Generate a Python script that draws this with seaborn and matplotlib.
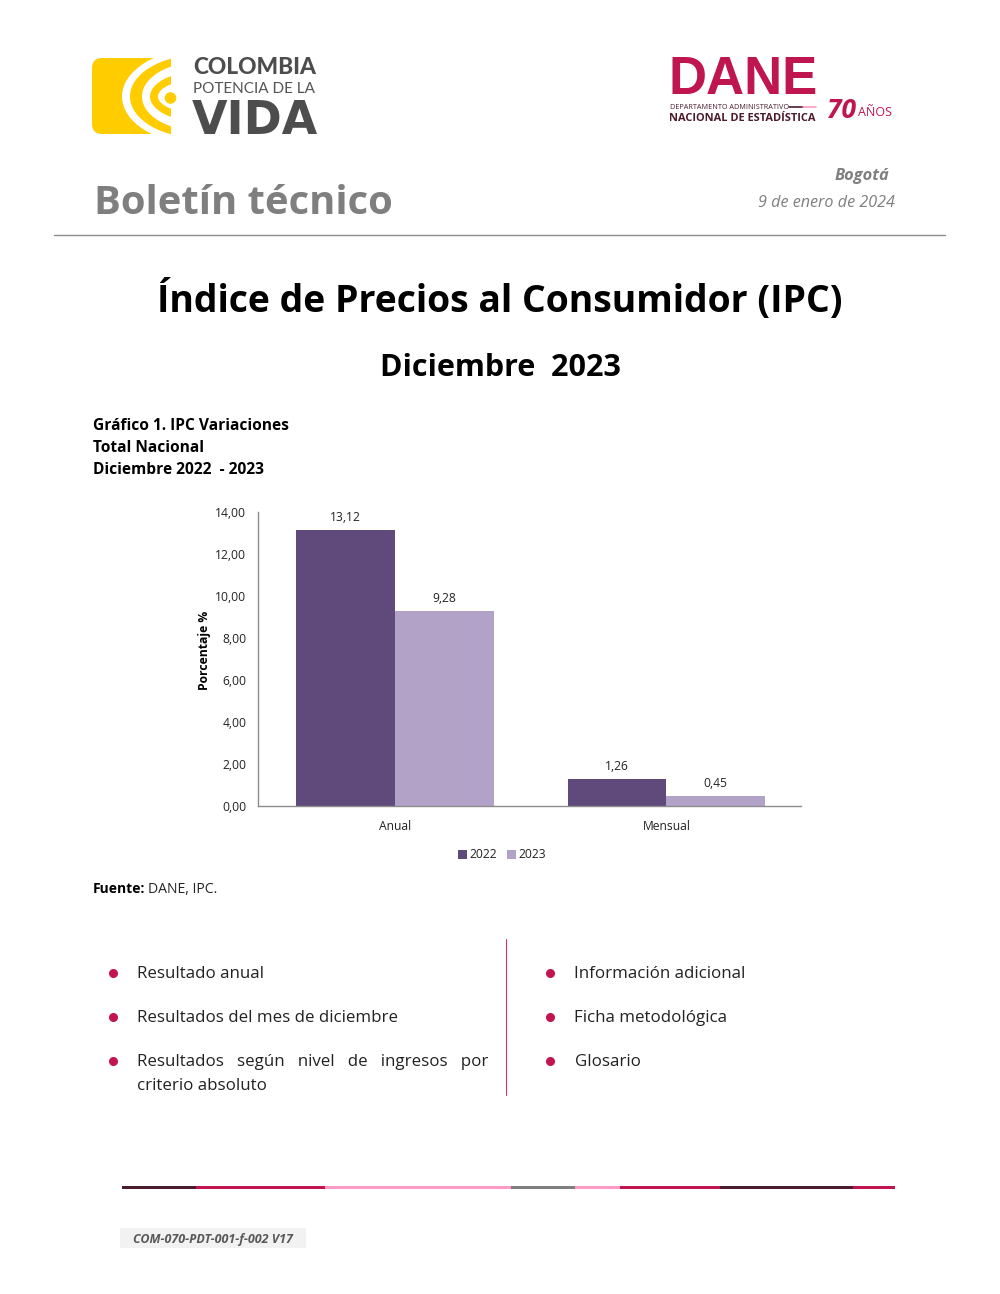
import matplotlib
matplotlib.use("Agg")
import matplotlib.pyplot as plt
from matplotlib.patches import FancyBboxPatch, Rectangle, Ellipse, Circle
import pandas as pd
import seaborn as sns

# Datos del grafico
categorias = ["Anual", "Mensual"]
valores_2022 = [13.12, 1.26]
valores_2023 = [9.28, 0.45]
anios = ["2022", "2023"]
ticks_y = [0, 2, 4, 6, 8, 10, 12, 14]

# Textos de la pagina
items_izq = ["Resultado anual", "Resultados del mes de diciembre"]
items_der = ["Información adicional", "Ficha metodológica", "Glosario"]
y_items = [973, 1017, 1061]

# Franja inferior: (inicio, fin, color)
franja = [(122, 196, "#4a1c2c"), (196, 325, "#c2154f"), (325, 511, "#ff9ac6"),
          (511, 575, "#7f7f7f"), (575, 620, "#ff9ac6"), (620, 720, "#c2154f"),
          (720, 853, "#4a1c2c"), (853, 895, "#c2154f")]

COLOR_2022 = "#604a7b"
COLOR_2023 = "#b3a2c7"
GRIS_EJE = "#8c8c8c"
AMARILLO = "#ffcc00"

sns.set_theme(style="white")
plt.rcParams["font.family"] = ["Open Sans", "DejaVu Sans"]

fig = plt.figure(figsize=(10, 12.94), dpi=100, facecolor="white")

# Capa de pagina en coordenadas de pixel
pag = fig.add_axes([0, 0, 1, 1])
pag.set_xlim(0, 1000)
pag.set_ylim(1294, 0)
pag.axis("off")

# Logo Colombia
pag.add_patch(FancyBboxPatch((92, 58), 78, 76, boxstyle="round,pad=0,rounding_size=10",
                             fc=AMARILLO, ec="none", zorder=1))
recorte = Rectangle((80, 50), 91, 95, transform=pag.transData)
for i, (a, b, col) in enumerate([(78, 47.7, "white"), (70, 41.5, AMARILLO), (58, 34.5, "white"),
                                 (50, 25, AMARILLO), (42, 17, "white")]):
    arco = Ellipse((200, 96.5), 2 * a, 2 * b, fc=col, ec="none", zorder=2 + i)
    pag.add_patch(arco)
    arco.set_clip_path(recorte)
pag.add_patch(Circle((170.5, 98), 5.8, fc=AMARILLO, ec="none", zorder=8))
pag.text(193, 67, "COLOMBIA", fontsize=16.3, fontweight="black", color="#4d4d4d", va="center", ha="left", family="Lato")
pag.text(193, 89, "POTENCIA DE LA", fontsize=11, color="#555555", va="center", ha="left", family="Lato")
pag.text(192, 121.5, "VIDA", fontsize=33, fontweight="bold", color="#4d4d4d", va="center", ha="left", family="DejaVu Sans")

# Logo DANE
pag.text(668, 80, "DANE", fontsize=38, fontweight="bold", color="#bf1650", va="center", ha="left", family="Liberation Sans")
pag.text(669.5, 107.5, "DEPARTAMENTO ADMINISTRATIVO", fontsize=5.2, color="#4a1c2c", va="center", ha="left")
pag.text(669, 118.5, "NACIONAL DE ESTADÍSTICA", fontsize=7.9, fontweight="bold", color="#4a1c2c", va="center", ha="left")
pag.plot([789, 803], [106.5, 106.5], color="#4a1c2c", lw=1.2)
pag.plot([803, 816], [106.5, 106.5], color="#ff9ac6", lw=1.2)
pag.text(827, 111, "70", fontsize=19, fontweight="bold", style="italic", color="#bf1650", va="center", ha="left")
pag.text(858, 113, "AÑOS", fontsize=9, color="#bf1650", va="center", ha="left")

# Encabezado
pag.text(94, 204, "Boletín técnico", fontsize=28.8, fontweight="bold", color="#7f7f7f", va="center", ha="left")
pag.text(889, 175.5, "Bogotá", fontsize=11.8, fontweight="bold", style="italic", color="#7f7f7f", va="center", ha="right")
pag.text(895, 203, "9 de enero de 2024", fontsize=11.6, style="italic", color="#7f7f7f", va="center", ha="right")
pag.plot([54, 945], [235, 235], color="#8c8c8c", lw=1)

# Titulos
pag.text(500, 301, "Índice de Precios al Consumidor (IPC)", fontsize=26.9, fontweight="bold", color="black",
         va="center", ha="center")
pag.text(500, 368, "Diciembre  2023", fontsize=22, fontweight="bold", color="black", va="center", ha="center")

pag.text(93, 426, "Gráfico 1. IPC Variaciones", fontsize=11.2, fontweight="bold", color="black", va="center")
pag.text(93, 448, "Total Nacional", fontsize=11.2, fontweight="bold", color="black", va="center")
pag.text(93, 470, "Diciembre 2022  - 2023", fontsize=11.2, fontweight="bold", color="black", va="center")

pag.text(93, 889, "Fuente:", fontsize=10, fontweight="bold", color="black", va="center")
pag.text(147.5, 889.5, "DANE, IPC.", fontsize=10.1, color="#222222", va="center")

# Listas
for y, txt in zip(y_items, items_izq + ["Resultados   según   nivel   de   ingresos   por"]):
    pag.text(137, y + 1.5, txt, fontsize=12.2, color="#222222", va="center")
    pag.plot([113], [y], "o", color="#c2154f", ms=5.5)
pag.text(137, 1086, "criterio absoluto", fontsize=12.2, color="#222222", va="center")
for y, txt in zip(y_items, items_der):
    pag.text(574.5, y + 1.5, txt, fontsize=12.2, color="#222222", va="center")
    pag.plot([550], [y], "o", color="#c2154f", ms=5.5)
pag.plot([506.3, 506.3], [939, 1095], color="#d6336c", lw=0.8)

# Franja y pie
for x0, x1, col in franja:
    pag.add_patch(Rectangle((x0, 1185.5), x1 - x0, 3, fc=col, ec="none"))
pag.add_patch(Rectangle((120, 1228), 186, 20, fc="#f2f2f2", ec="none"))
pag.text(213, 1239, "COM-070-PDT-001-f-002 V17", fontsize=9, fontweight="bold", style="italic",
         color="#595959", va="center", ha="center")

# Grafico de barras
df = pd.DataFrame({
    "categoria": categorias * 2,
    "anio": [anios[0]] * len(categorias) + [anios[1]] * len(categorias),
    "valor": valores_2022 + valores_2023,
})

ax = fig.add_axes([258 / 1000, 1 - 805.7 / 1294, (801 - 258) / 1000, 294 / 1294])
ax.patch.set_alpha(0)
sns.barplot(data=df, x="categoria", y="valor", hue="anio", palette=[COLOR_2022, COLOR_2023],
            width=0.727, gap=0, saturation=1, linewidth=0, ax=ax, legend=False)
ax.set_xlim(-0.504, 1.496)
ax.set_ylim(0, 14)
ax.set_yticks(ticks_y)
ax.set_yticklabels([f"{v:.2f}".replace(".", ",") for v in ticks_y], fontsize=8.7, color="#222222")
ax.tick_params(axis="y", length=0, pad=8.5)
ax.tick_params(axis="x", length=0, pad=10, labelsize=8.7, labelcolor="#222222")
ax.set_xlabel("")
ax.set_ylabel("Porcentaje %", fontsize=8.7, fontweight="bold", color="black", labelpad=3, y=0.527)
for lado in ["top", "right"]:
    ax.spines[lado].set_visible(False)
for lado in ["left", "bottom"]:
    ax.spines[lado].set_color(GRIS_EJE)
    ax.spines[lado].set_linewidth(1)
for cont in ax.containers:
    ax.bar_label(cont, labels=[f"{v:.2f}".replace(".", ",") for v in cont.datavalues],
                 fontsize=8.7, color="#222222", padding=4.5)

# Leyenda
pag.add_patch(Rectangle((458, 850), 8.5, 8.5, fc=COLOR_2022, ec="none"))
pag.text(469.5, 855, anios[0], fontsize=8.7, color="#222222", va="center")
pag.add_patch(Rectangle((507, 850), 8.5, 8.5, fc=COLOR_2023, ec="none"))
pag.text(518.5, 855, anios[1], fontsize=8.7, color="#222222", va="center")

fig.savefig("out.png", dpi=100)
